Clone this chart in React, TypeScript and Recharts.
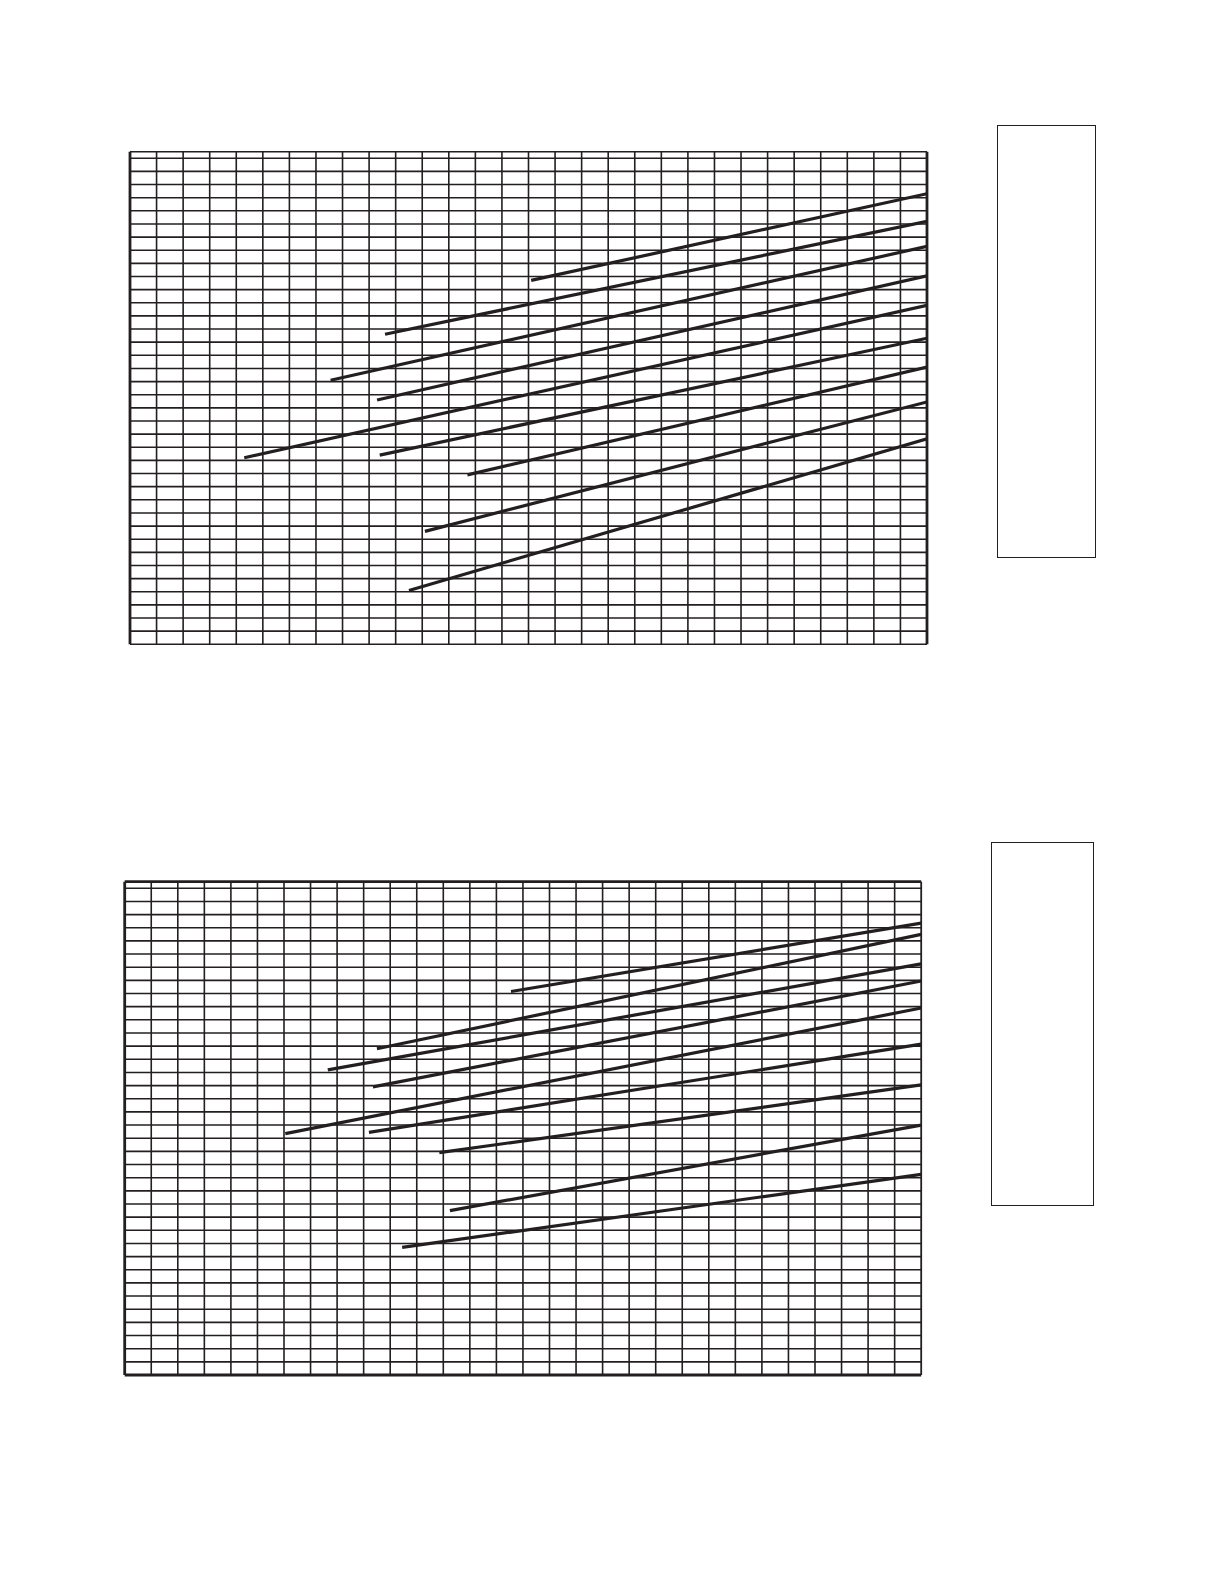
import React from "react";
import { LineChart, Line, XAxis, YAxis, ReferenceLine } from "recharts";

// ---- shared axis definitions (grid units) ----
const xMajorTicks = [0, 5, 10, 15, 20, 25, 30];
const yMajorTicks = [0, 5, 10, 15, 20, 25, 30, 35];
const xGridValues = [1,2,3,4,5,6,7,8,9,10,11,12,13,14,15,16,17,18,19,20,21,22,23,24,25,26,27,28,29];
const yGridValues = [1,2,3,4,5,6,7,8,9,10,11,12,13,14,15,16,17,18,19,20,21,22,23,24,25,26,27,28,29,30,31,32,33,34,35,36,37];
const xDomain = [0, 30];
const yDomain = [0, 37.5];

// ---- upper chart series (start point -> end point at right edge) ----
const upperStartX = [15.1, 9.6, 7.55, 9.3, 4.3, 9.4, 12.7, 11.1, 10.5];
const upperStartY = [27.7, 23.6, 20.1, 18.6, 14.2, 14.4, 12.9, 8.6, 4.1];
const upperEndX = [30, 30, 30, 30, 30, 30, 30, 30, 30];
const upperEndY = [34.3, 32.2, 30.3, 28.05, 25.8, 23.3, 21.1, 18.45, 15.65];

// ---- lower chart series ----
const lowerStartX = [14.55, 9.5, 7.65, 9.35, 6.05, 9.2, 11.85, 12.25, 10.45];
const lowerStartY = [29.15, 24.8, 23.2, 21.9, 18.35, 18.45, 16.9, 12.5, 9.7];
const lowerEndX = [30, 30, 30, 30, 30, 30, 30, 30, 30];
const lowerEndY = [34.35, 33.5, 31.25, 29.95, 27.9, 25.15, 22.05, 19.0, 15.25];

const INK = "#231f20";

function buildSeries(sx: number[], sy: number[], ex: number[], ey: number[]) {
  return sx.map((x, i) => [
    { x, y: sy[i] },
    { x: ex[i], y: ey[i] },
  ]);
}

type Borders = { left: number; right: number; top: number; bottom: number };

function GridChart(props: {
  width: number;
  height: number;
  margin: { top: number; left: number; right: number; bottom: number };
  series: { x: number; y: number }[][];
  borders: Borders;
}) {
  const { width, height, margin, series, borders } = props;
  const tickLine = { stroke: INK, strokeWidth: 1.5 };
  return (
    <LineChart width={width} height={height} margin={margin}>
      {xGridValues.map((v) => (
        <ReferenceLine key={"gx" + v} x={v} xAxisId={0} yAxisId={0} stroke={INK} strokeWidth={1.6} />
      ))}
      {yGridValues.map((v) => (
        <ReferenceLine key={"gy" + v} y={v} xAxisId={0} yAxisId={0} stroke={INK} strokeWidth={1.6} />
      ))}
      {series.map((d, i) => (
        <Line
          key={"s" + i}
          xAxisId={0}
          yAxisId={0}
          data={d}
          dataKey="y"
          type="linear"
          stroke={INK}
          strokeWidth={3.2}
          dot={false}
          activeDot={false}
          isAnimationActive={false}
        />
      ))}
      <XAxis
        xAxisId={0}
        type="number"
        dataKey="x"
        domain={xDomain}
        ticks={xMajorTicks}
        tick={false}
        tickSize={4}
        height={1}
        allowDataOverflow
        axisLine={{ stroke: INK, strokeWidth: borders.bottom }}
        tickLine={tickLine}
      />
      <XAxis
        xAxisId="top"
        orientation="top"
        type="number"
        dataKey="x"
        domain={xDomain}
        ticks={xMajorTicks}
        tick={false}
        tickSize={4}
        height={1}
        allowDataOverflow
        axisLine={{ stroke: INK, strokeWidth: borders.top }}
        tickLine={tickLine}
      />
      <YAxis
        yAxisId={0}
        type="number"
        domain={yDomain}
        ticks={yMajorTicks}
        tick={false}
        tickSize={4}
        width={1}
        allowDataOverflow
        axisLine={{ stroke: INK, strokeWidth: borders.left }}
        tickLine={tickLine}
      />
      <YAxis
        yAxisId="right"
        orientation="right"
        type="number"
        domain={yDomain}
        ticks={yMajorTicks}
        tick={false}
        tickSize={4}
        width={1}
        allowDataOverflow
        axisLine={{ stroke: INK, strokeWidth: borders.right }}
        tickLine={tickLine}
      />
    </LineChart>
  );
}

export default function App() {
  const upper = buildSeries(upperStartX, upperStartY, upperEndX, upperEndY);
  const lower = buildSeries(lowerStartX, lowerStartY, lowerEndX, lowerEndY);
  return (
    <div style={{ position: "absolute", left: 0, top: 0, width: 1222, height: 1584, background: "#fff" }}>
      <div style={{ position: "absolute", left: 0, top: 0 }}>
        <GridChart
          width={980}
          height={680}
          margin={{ top: 150.7, left: 129, right: 52, bottom: 34.7 }}
          series={upper}
          borders={{ left: 2.8, right: 2.8, top: 1.6, bottom: 1.6 }}
        />
      </div>
      <div
        style={{
          position: "absolute",
          left: 997.3,
          top: 124.5,
          width: 99,
          height: 433.5,
          border: `1.6px solid ${INK}`,
          boxSizing: "border-box",
        }}
      />
      <div style={{ position: "absolute", left: 0, top: 800 }}>
        <GridChart
          width={980}
          height={620}
          margin={{ top: 80.7, left: 123.7, right: 57.8, bottom: 44 }}
          series={lower}
          borders={{ left: 2.8, right: 1.8, top: 2.8, bottom: 2.8 }}
        />
      </div>
      <div
        style={{
          position: "absolute",
          left: 991.3,
          top: 842.3,
          width: 102.4,
          height: 363.4,
          border: `1.6px solid ${INK}`,
          boxSizing: "border-box",
        }}
      />
    </div>
  );
}
